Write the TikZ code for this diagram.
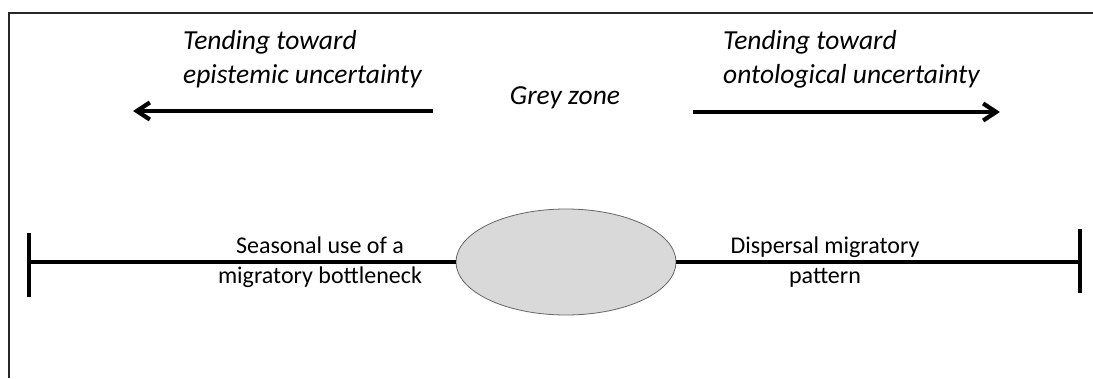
\documentclass[tikz,border=0pt]{standalone}
\usepackage{fontspec}
\setmainfont{Carlito}
\usetikzlibrary{arrows.meta,shapes.geometric}

\begin{document}
\begin{tikzpicture}[x=1pt,y=-1pt,
  frame/.style={draw=black!85,line width=1.2pt},
  axis/.style={line width=3.6pt,line cap=butt},
  trend/.style={line width=3.6pt,-{Straight Barb[length=13pt,width=17pt,line width=4.2pt]}},
  zone/.style={ellipse,draw=black!60,line width=0.8pt,fill=black!15,
    minimum width=220pt,minimum height=106pt,inner sep=0pt},
  toplabel/.style={font=\fontsize{27.5}{34}\selectfont\itshape,inner sep=0pt,align=left},
  axislabel/.style={font=\fontsize{24}{30}\selectfont,inner sep=0pt,align=center}]
\useasboundingbox (0,0) rectangle (1093,378);

% open frame along the top and left edges
\draw[frame] (1093,13) -- (9,13) -- (9,378);

% continuum with the grey zone in the middle
\node[zone] (grey) at (566,262) {};
\coordinate (lend) at (29,262);
\coordinate (rend) at (1080,262);
\draw[axis] (lend) -- (grey.west);
\draw[axis] (grey.east) -- (rend);
\draw[axis] ([yshift=-35pt]lend) -- ([yshift=29pt]lend);
\draw[axis] ([yshift=-31pt]rend) -- ([yshift=33pt]rend);

% labels along the continuum (anchored at the baseline of the last line)
\node[axislabel,anchor=base] (bottleneck) at (320,283) {Seasonal use of a\\migratory bottleneck};
\node[axislabel,anchor=base] (dispersal) at (825,283) {Dispersal migratory\\pattern};

% direction of the two kinds of uncertainty
\node[toplabel,anchor=base west] (epi) at (183,83) {Tending toward\\epistemic uncertainty};
\node[toplabel,anchor=base west] (onto) at (723,83) {Tending toward\\ontological uncertainty};
\node[toplabel,anchor=base] (greylabel) at (565,104) {Grey zone};
\coordinate (ltail) at (433,111);
\coordinate (lhead) at (133,111);
\coordinate (rtail) at (693,112);
\coordinate (rhead) at (1000,112);
\draw[trend] (ltail) -- (lhead);
\draw[trend] (rtail) -- (rhead);
\end{tikzpicture}
\end{document}
